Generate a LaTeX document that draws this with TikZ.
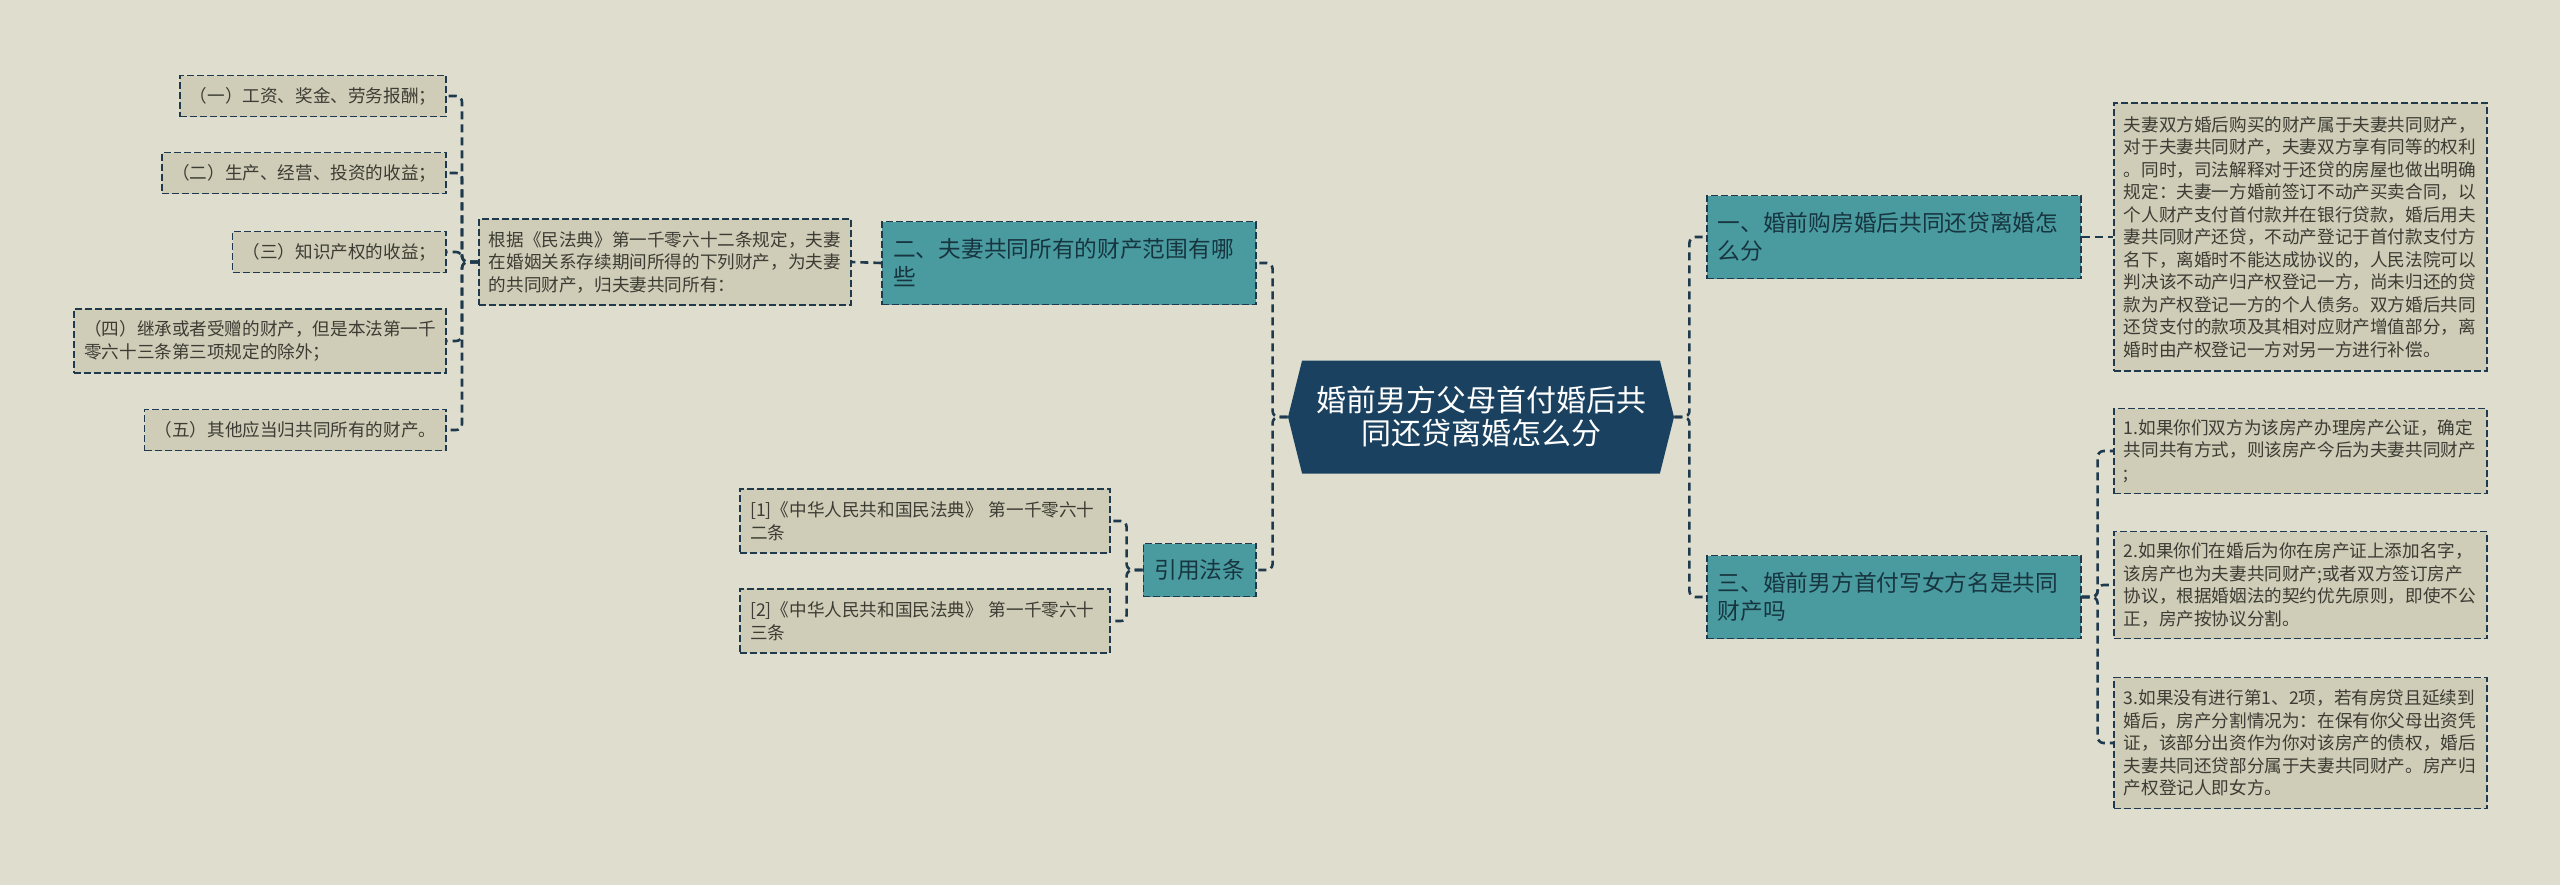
\documentclass[tikz,border=0pt]{standalone}
\usepackage{fontspec}
\setmainfont{Noto Sans CJK SC}
\usepackage{tikz}
\usetikzlibrary{shapes.symbols}
\definecolor{bgcol}{HTML}{DFDDCE}
\definecolor{leafcol}{HTML}{CFCDB7}
\definecolor{tealcol}{HTML}{4A9B9F}
\definecolor{navycol}{HTML}{1A4260}
\definecolor{linecol}{HTML}{1E3A4C}
\definecolor{leaftext}{HTML}{3C3C34}
\definecolor{tealtext}{HTML}{173540}

\begin{document}
\begin{tikzpicture}[x=0.5pt,y=-0.5pt,
  link/.style={linecol,line width=1.3pt,dash pattern=on 4pt off 2.5pt,rounded corners=3pt},
  leaf/.style={draw=linecol,line width=0.8pt,dash pattern=on 3.5pt off 1.5pt,fill=leafcol,
    text=leaftext,font=\fontsize{8.8}{11.25}\selectfont,align=left,inner xsep=5pt,inner ysep=3pt},
  branch/.style={draw=linecol,line width=0.8pt,dash pattern=on 3.5pt off 1.5pt,fill=tealcol,
    text=tealtext,font=\fontsize{11.35}{14}\selectfont,align=left,inner xsep=5.5pt,inner ysep=3pt},
  hub/.style={signal,signal to=west and east,signal pointer angle=152,fill=navycol,text=white,
    font=\fontsize{15}{16.5}\selectfont,align=center,minimum width=193pt,minimum height=56.5pt,inner sep=0pt}]
  \fill[bgcol] (0,0) rectangle (2560,885);
  % centre
  \node[hub] (hub) at (1481,417) {婚前男方父母首付婚后共\\同还贷离婚怎么分};
  % right side
  \node[branch,anchor=west,text width=176pt,minimum height=41.5pt] (r1) at (1706,237) {一、婚前购房婚后共同还贷离婚怎\\么分};
  \node[branch,anchor=west,text width=176pt,minimum height=41.5pt] (r3) at (1706,597) {三、婚前男方首付写女方名是共同\\财产吗};
  \node[leaf,anchor=west,text width=176.5pt,minimum height=134pt] (rt) at (2113,237)
    {夫妻双方婚后购买的财产属于夫妻共同财产，\\对于夫妻共同财产，夫妻双方享有同等的权利\\。同时，司法解释对于还贷的房屋也做出明确\\规定：夫妻一方婚前签订不动产买卖合同，以\\个人财产支付首付款并在银行贷款，婚后用夫\\妻共同财产还贷，不动产登记于首付款支付方\\名下，离婚时不能达成协议的，人民法院可以\\判决该不动产归产权登记一方，尚未归还的贷\\款为产权登记一方的个人债务。双方婚后共同\\还贷支付的款项及其相对应财产增值部分，离\\婚时由产权登记一方对另一方进行补偿。};
  \node[leaf,anchor=west,text width=176.5pt,minimum height=42.5pt] (a1) at (2113,451)
    {1.如果你们双方为该房产办理房产公证，确定\\共同共有方式，则该房产今后为夫妻共同财产\\;};
  \node[leaf,anchor=west,text width=176.5pt,minimum height=53.5pt] (a2) at (2113,585)
    {2.如果你们在婚后为你在房产证上添加名字，\\该房产也为夫妻共同财产;或者双方签订房产\\协议，根据婚姻法的契约优先原则，即使不公\\正，房产按协议分割。};
  \node[leaf,anchor=west,text width=176.5pt,minimum height=65.5pt] (a3) at (2113,743)
    {3.如果没有进行第1、2项，若有房贷且延续到\\婚后，房产分割情况为：在保有你父母出资凭\\证，该部分出资作为你对该房产的债权，婚后\\夫妻共同还贷部分属于夫妻共同财产。房产归\\产权登记人即女方。};
  % left side
  \node[branch,anchor=east,text width=176pt,minimum height=41.5pt] (l2) at (1257,263) {二、夫妻共同所有的财产范围有哪\\些};
  \node[branch,anchor=east,minimum height=26.5pt] (law) at (1257,570) {引用法条};
  \node[leaf,anchor=west,minimum height=43pt] (gen) at (478,262)
    {根据《民法典》第一千零六十二条规定，夫妻\\在婚姻关系存续期间所得的下列财产，为夫妻\\的共同财产，归夫妻共同所有：};
  \node[leaf,anchor=east,minimum height=20.5pt] (i1) at (447,96) {（一）工资、奖金、劳务报酬；};
  \node[leaf,anchor=east,minimum height=20.5pt] (i2) at (447,173) {（二）生产、经营、投资的收益；};
  \node[leaf,anchor=east,minimum height=20.5pt] (i3) at (447,252) {（三）知识产权的收益；};
  \node[leaf,anchor=east,minimum height=32pt] (i4) at (447,341) {（四）继承或者受赠的财产，但是本法第一千\\零六十三条第三项规定的除外；};
  \node[leaf,anchor=east,minimum height=20.5pt] (i5) at (447,430) {（五）其他应当归共同所有的财产。};
  \node[leaf,anchor=east,text width=175pt,minimum height=32pt] (ref1) at (1111,521) {[1]《中华人民共和国民法典》 第一千零六十\\二条};
  \node[leaf,anchor=east,text width=175pt,minimum height=32pt] (ref2) at (1111,621) {[2]《中华人民共和国民法典》 第一千零六十\\三条};
  % connectors
  \draw[link] (hub.east) -- ++(15,0) |- (r1.west);
  \draw[link] (hub.east) -- ++(15,0) |- (r3.west);
  \draw[link] (hub.west) -- ++(-15,0) |- (l2.east);
  \draw[link] (hub.west) -- ++(-15,0) |- (law.east);
  \draw[link] (r1.east) -- (rt.west);
  \foreach \n in {a1,a2,a3}
    \draw[link] (r3.east) -- ++(16,0) |- (\n.west);
  \draw[link] (l2.west) -- (gen.east);
  \foreach \n in {i1,i2,i3,i4,i5}
    \draw[link] (gen.west) -- ++(-16,0) |- (\n.east);
  \foreach \n in {ref1,ref2}
    \draw[link] (law.west) -- ++(-16,0) |- (\n.east);
\end{tikzpicture}
\end{document}
